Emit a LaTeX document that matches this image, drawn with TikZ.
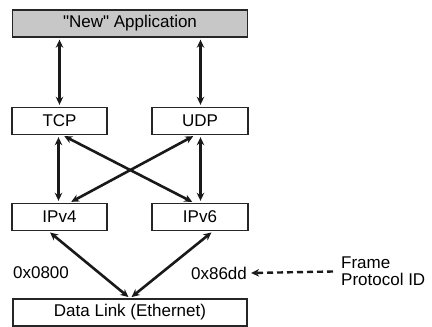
\documentclass[tikz,border=0pt]{standalone}
\usepackage{fontspec}
\setmainfont{Liberation Sans}
\usetikzlibrary{arrows.meta}
\begin{document}
\begin{tikzpicture}[x=1pt,y=-1pt,
  box/.style={draw=black!85,line width=1.4pt,minimum height=27pt,inner sep=0pt,font=\fontsize{17}{20}\selectfont,fill=white},
  lbl/.style={inner sep=0pt,font=\fontsize{17}{20}\selectfont},
  arr/.style={line width=2.6pt,black!90,{Stealth[length=8pt,width=7.5pt]}-{Stealth[length=8pt,width=7.5pt]},shorten <=2pt,shorten >=2pt},
  darr/.style={line width=2.4pt,black!90,dash pattern=on 6pt off 4pt,-{Stealth[length=8pt,width=7.5pt]}}]
\useasboundingbox (0,0) rectangle (432,327);
\node[box,fill=black!22,minimum width=235pt] (app) at (130,23.5) {\textquotedbl New\textquotedbl{} Application};
\node[box,minimum width=95pt] (tcp) at (59.5,121) {TCP};
\node[box,minimum width=96pt] (udp) at (200,121) {UDP};
\node[box,minimum width=95pt] (ipv4) at (59.5,217) {IPv4};
\node[box,minimum width=96pt] (ipv6) at (200,217) {IPv6};
\node[box,minimum width=234pt] (dl) at (130,312.5) {Data Link (Ethernet)};
\node[lbl] (l0800) at (41,273) {0x0800};
\node[lbl] (l86dd) at (219,273) {0x86dd};
\node[lbl,anchor=west,align=left,font=\fontsize{17}{17}\selectfont] (fpid) at (341,271.5) {Frame\\Protocol ID};
\draw[arr] (tcp.north |- app.south) -- (tcp.north);
\draw[arr] ([xshift=0.5pt]udp.north |- app.south) -- ([xshift=0.5pt]udp.north);
\draw[arr] ([xshift=-1pt]tcp.south) -- ([xshift=-1pt]ipv4.north);
\draw[arr] ([xshift=0.5pt]udp.south) -- ([xshift=0.5pt]ipv6.north);
\draw[arr] ([xshift=3pt]tcp.south) -- ([xshift=-6pt]ipv6.north);
\draw[arr] ([xshift=-5pt]udp.south) -- ([xshift=10pt]ipv4.north);
\draw[arr] ([xshift=-11pt]ipv4.south) -- (dl.north);
\draw[arr] ([xshift=13pt]ipv6.south) -- (dl.north);
\draw[darr] ([xshift=-8pt]fpid.west) -- ([xshift=4pt]l86dd.east);
\end{tikzpicture}
\end{document}
